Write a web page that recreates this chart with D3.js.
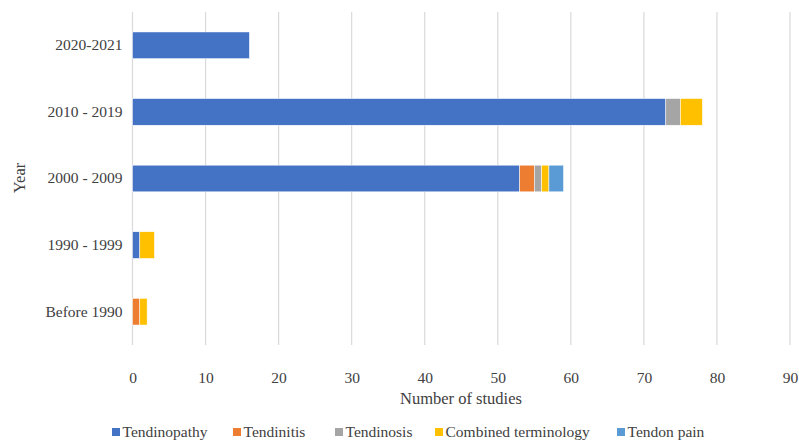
<!DOCTYPE html>
<html>
<head>
<meta charset="utf-8">
<script src="https://cdn.jsdelivr.net/npm/d3@7"></script>
<style>
  body { margin: 0; background: #fff; }
</style>
</head>
<body>
<script>
const [W, H] = [799, 440];
const FONT = '"Liberation Serif", "DejaVu Serif", serif';

// data
const years = ['2020-2021', '2010 - 2019', '2000 - 2009', '1990 - 1999', 'Before 1990'];
const seriesNames = ['Tendinopathy', 'Tendinitis', 'Tendinosis', 'Combined terminology', 'Tendon pain'];
const tendinopathy = [16, 73, 53, 1, 0];
const tendinitis = [0, 0, 2, 0, 1];
const tendinosis = [0, 2, 1, 0, 0];
const combined = [0, 3, 1, 2, 1];
const tendonPain = [0, 0, 2, 0, 0];
const xTicks = [0, 10, 20, 30, 40, 50, 60, 70, 80, 90];
const colors = ['#4472C4', '#ED7D31', '#A5A5A5', '#FFC000', '#5B9BD5'];

function main() {
    const rows = years.map((y, i) => ({
        year: y,
        'Tendinopathy': tendinopathy[i],
        'Tendinitis': tendinitis[i],
        'Tendinosis': tendinosis[i],
        'Combined terminology': combined[i],
        'Tendon pain': tendonPain[i]
    }));

    const stacked = d3.stack().keys(seriesNames)(rows);

    const svg = d3.select('body').append('svg')
        .attr('width', W).attr('height', H)
        .style('font-family', FONT);

    const xScale = d3.scaleLinear().domain([0, 90]).range([132.5, 790]);
    const yScale = d3.scaleBand().domain(years).range([12, 345]).paddingInner(0.6).paddingOuter(0.3);
    const color = d3.scaleOrdinal().domain(seriesNames).range(colors);

    // gridlines
    svg.append('g').selectAll('line')
        .data(xTicks).enter()
        .append('line')
        .attr('x1', d => xScale(d)).attr('x2', d => xScale(d))
        .attr('y1', 12).attr('y2', 345)
        .attr('stroke', '#d9d9d9').attr('stroke-width', 1.2);

    // bars
    svg.append('g').selectAll('g')
        .data(stacked).enter()
        .append('g')
        .attr('fill', d => color(d.key))
        .selectAll('rect')
        .data(d => d.filter(s => s[1] - s[0] > 0)).enter()
        .append('rect')
        .attr('x', d => xScale(d[0]))
        .attr('width', d => xScale(d[1]) - xScale(d[0]))
        .attr('y', d => yScale(d.data.year))
        .attr('height', yScale.bandwidth())
        .attr('stroke', '#fff').attr('stroke-width', 0.5);

    // axes
    const xAxis = d3.axisBottom(xScale).tickValues(xTicks).tickSize(0).tickPadding(0);
    const gx = svg.append('g').attr('transform', 'translate(0,345)').call(xAxis)
        .attr('font-family', null).attr('font-size', null);
    gx.select('.domain').remove();
    gx.selectAll('text').attr('y', 27)
        .style('font-size', '15.5px').style('font-family', FONT).attr('fill', '#404040');

    const yAxis = d3.axisLeft(yScale).tickSize(0).tickPadding(10);
    const gy = svg.append('g').attr('transform', 'translate(132.5,0)').call(yAxis)
        .attr('font-family', null).attr('font-size', null);
    gy.select('.domain').remove();
    gy.selectAll('text')
        .style('font-size', '15.5px').style('font-family', FONT).attr('fill', '#404040');

    // axis titles
    svg.append('text')
        .attr('x', 461).attr('y', 404)
        .attr('text-anchor', 'middle')
        .style('font-size', '16.5px').attr('fill', '#404040')
        .text('Number of studies');

    svg.append('text')
        .attr('transform', 'translate(25,178) rotate(-90)')
        .attr('text-anchor', 'middle')
        .style('font-size', '16.5px').attr('fill', '#404040')
        .text('Year');

    // legend
    const legendX = [112, 233, 335, 435, 617];
    const legend = svg.append('g').selectAll('g')
        .data(seriesNames).enter()
        .append('g')
        .attr('transform', (d, i) => 'translate(' + legendX[i] + ',437)');

    legend.append('rect')
        .attr('x', 0).attr('y', -9).attr('width', 8).attr('height', 8)
        .attr('fill', d => color(d));

    legend.append('text')
        .attr('x', 10.5).attr('y', 0)
        .style('font-size', '15.5px').attr('fill', '#404040')
        .text(d => d);
}

document.addEventListener('DOMContentLoaded', main);
</script>
</body>
</html>
